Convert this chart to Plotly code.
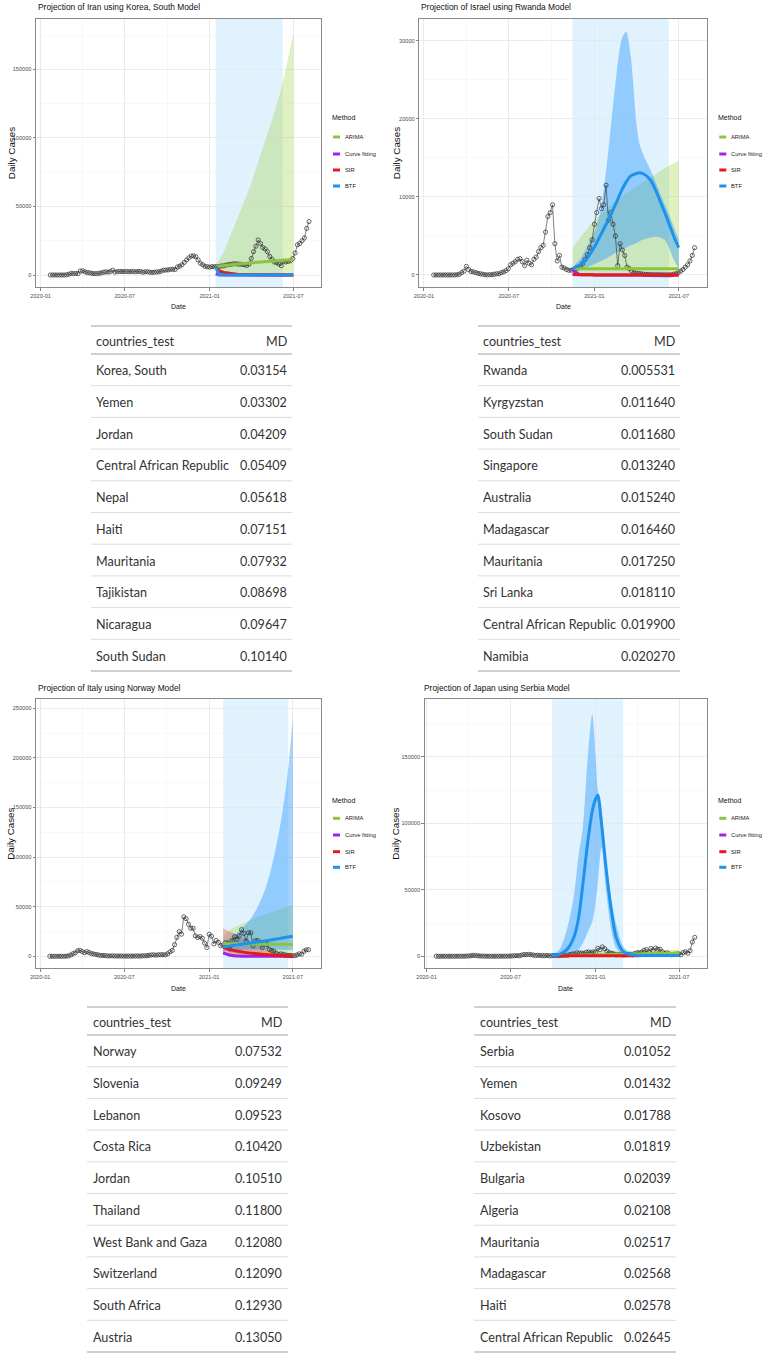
import plotly.graph_objects as go
import pandas as pd

W, H = 768, 1357
SANS = "Liberation Sans, Arial, sans-serif"
TFONT = "Lato, Roboto, sans-serif"
TSIZE = 12.6

# ---------------- observed daily cases (every 5 days from 2020-01-22) ----------------
obs_dates = pd.date_range("2020-01-22", periods=113, freq="5D")

iran_cases = [0, 0, 0, 0, 0, 0, 5, 100, 500, 1200,
              1000, 1200, 1000, 2900, 3100, 2300, 1800, 1600, 1200, 1000,
              1000, 1300, 1500, 2000, 2300, 2100, 2500, 3500, 2100, 2500,
              2600, 2500, 2500, 2600, 2400, 2500, 2600, 2300, 2600, 2600,
              2000, 2300, 2400, 2000, 1900, 2000, 2200, 2300, 2800, 3500,
              3600, 3700, 4100, 4200, 4000, 5800, 6400, 7500, 9200, 11000,
              12500, 13800, 14000, 13300, 11000, 8500, 7500, 6300, 6000, 5700,
              6100, 6000, 6200, 6000, 6600, 6700, 7200, 7500, 7700, 8000,
              8200, 8000, 7900, 7800, 7500, 7000, 7800, 12000, 17000, 21000,
              25500, 23000, 20000, 19000, 17000, 13500, 11500, 9500, 9000, 8000,
              6800, 10000, 9500, 9800, 10500, 12000, 16000, 22000, 23000, 25000,
              27000, 34000, 39000]

israel_cases = [0, 0, 0, 0, 0, 0, 0, 0, 2, 5,
                30, 100, 300, 500, 1100, 700, 450, 400, 300, 200,
                150, 100, 30, 20, 30, 40, 100, 150, 150, 300,
                400, 550, 800, 1300, 1500, 1700, 2000, 2100, 1700, 1200,
                1900, 1500, 1300, 2000, 2300, 3000, 3500, 3800, 5500, 7500,
                8000, 9000, 4000, 1800, 2500, 1000, 900, 700, 600, 600,
                700, 800, 900, 1000, 1500, 2000, 2600, 3500, 4500, 6500,
                8000, 9800, 8500, 9000, 11500, 7000, 8000, 6500, 5000, 1200,
                4000, 3200, 2500, 1000, 800, 500, 300, 200, 200, 150,
                100, 80, 60, 50, 40, 30, 40, 30, 20, 15,
                10, 15, 20, 100, 150, 300, 500, 700, 1000, 1300,
                1800, 2500, 3500]

italy_cases = [0, 0, 0, 0, 0, 0, 20, 100, 350, 1200,
               2600, 3500, 5500, 6000, 4800, 3600, 4700, 3800, 2700, 2300,
               1900, 1400, 750, 900, 650, 400, 350, 500, 200, 300,
               260, 300, 150, 200, 280, 170, 200, 270, 380, 190,
               460, 570, 640, 950, 1400, 1400, 1100, 1500, 1600, 1600,
               1500, 2500, 4500, 5900, 11700, 19100, 24900, 22300, 39800, 37900,
               32200, 28300, 28300, 20700, 18900, 19900, 18200, 13300, 8900, 22200,
               20300, 12500, 16000, 14000, 10600, 11300, 13700, 12900, 7300, 15500,
               19800, 17100, 20700, 26800, 23100, 15300, 23800, 23600, 10600, 15600,
               15900, 13800, 8800, 12900, 11800, 6900, 5800, 5200, 3200, 1800,
               2400, 2000, 1300, 900, 900, 700, 500, 1400, 2500, 2100,
               5000, 6500, 6600]

japan_cases = [0, 0, 0, 0, 0, 5, 10, 20, 20, 50,
               50, 40, 40, 100, 250, 350, 700, 580, 350, 200,
               160, 90, 40, 20, 30, 20, 40, 40, 40, 70,
               70, 100, 130, 270, 430, 450, 420, 850, 1300, 1200,
               1400, 1200, 1000, 500, 800, 600, 450, 450, 600, 300,
               400, 550, 600, 450, 600, 750, 700, 850, 1300, 1700,
               1700, 2500, 2500, 2400, 2000, 3000, 3200, 2700, 3300, 3200,
               6000, 4900, 7000, 5700, 3900, 2700, 2300, 1700, 1000, 1200,
               1100, 950, 1000, 1300, 1500, 1100, 2000, 2600, 2600, 3100,
               4500, 5000, 3300, 5900, 4400, 6200, 5300, 5300, 3400, 1900,
               2600, 1700, 1100, 1500, 1700, 1800, 1100, 2800, 3400, 2300,
               4200, 10700, 14200]

# ---------------- projections ----------------
iran_fc_dates = ["2021-01-14", "2021-01-21", "2021-02-01", "2021-02-15", "2021-03-01", "2021-03-15",
                 "2021-04-01", "2021-04-15", "2021-05-01", "2021-05-15", "2021-06-01", "2021-06-15", "2021-07-01"]
iran_arima = [6200, 6500, 7000, 7500, 8000, 8400, 8900, 9300, 9700, 10100, 10500, 10900, 11300]
iran_arima_lo = [5500, 3000, 1500, 500, 0, 0, 0, 0, 0, 0, 0, 0, 0]
iran_arima_hi = [7000, 11000, 17000, 29000, 40000, 52000, 67000, 81000, 97000, 112000, 131000, 150000, 176000]
iran_cf = [800, 100, 50, 20, 10, 10, 10, 10, 10, 10, 10, 10, 10]
iran_sir = [6200, 3000, 1800, 1000, 600, 300, 150, 80, 40, 20, 10, 5, 5]
iran_sir_lo = [5800, 1500, 600, 200, 0, 0, 0, 0, 0, 0, 0, 0, 0]
iran_sir_hi = [6500, 4500, 3000, 1800, 1100, 600, 300, 150, 80, 40, 20, 10, 10]
iran_btf = [6200, 200, 100, 50, 30, 20, 20, 20, 20, 20, 20, 20, 20]
iran_window = ["2021-01-14", "2021-06-08"]

israel_fc_dates = ["2020-11-15", "2020-12-01", "2020-12-15", "2021-01-01", "2021-01-15", "2021-02-01",
                   "2021-02-15", "2021-03-01", "2021-03-10", "2021-03-20", "2021-04-01", "2021-04-07",
                   "2021-04-15", "2021-05-01", "2021-05-15", "2021-06-01", "2021-06-10", "2021-06-20", "2021-07-01"]
israel_arima = [800, 800, 800, 800, 800, 800, 800, 800, 800, 800, 800, 800, 800, 800, 800, 800, 800, 800, 800]
israel_arima_lo = [0, 0, 0, 0, 0, 0, 0, 0, 0, 0, 0, 0, 0, 0, 0, 0, 0, 0, 0]
israel_arima_hi = [3500, 4800, 5800, 7000, 7800, 8700, 9400, 10000, 10400, 10800, 11300, 11500, 11900,
                   12500, 13000, 13700, 14000, 14300, 14600]
israel_cf = [600, 50, 20, 10, 5, 0, 0, 0, 0, 0, 0, 0, 0, 0, 0, 0, 0, 0, 0]
israel_sir = [50, 30, 20, 10, 10, 5, 5, 5, 5, 5, 5, 5, 5, 5, 5, 5, 5, 5, 5]
israel_btf = [800, 1300, 2000, 3600, 5200, 7200, 9000, 10900, 11900, 12700, 13000, 13100, 13000,
              12200, 10500, 8000, 6600, 5000, 3500]
israel_btf_lo = [600, 800, 1000, 1400, 1800, 2300, 2800, 3200, 3500, 3800, 4100, 4300, 4500,
                 4800, 4900, 4500, 3500, 2000, 800]
israel_btf_hi = [1000, 2000, 3500, 5500, 8500, 16500, 24500, 30300, 31200, 28000, 19500, 17000, 15500,
                 13500, 11500, 9000, 7800, 6200, 4500]
israel_window = ["2020-11-15", "2021-06-10"]

italy_fc_dates = ["2021-01-31", "2021-02-10", "2021-02-20", "2021-03-01", "2021-03-15", "2021-04-01",
                  "2021-04-15", "2021-05-01", "2021-05-15", "2021-06-01", "2021-06-10", "2021-06-20", "2021-07-01"]
italy_arima = [13000, 12800, 12600, 12500, 12400, 12300, 12300, 12200, 12200, 12100, 12100, 12000, 12000]
italy_arima_lo = [9000, 5000, 3000, 1000, 0, 0, 0, 0, 0, 0, 0, 0, 0]
italy_arima_hi = [18000, 25000, 28000, 30000, 33000, 36500, 39000, 42000, 44500, 47000, 48500, 49500, 51000]
italy_cf = [3500, 1800, 700, 300, 100, 50, 20, 10, 5, 0, 0, 0, 0]
italy_sir = [9000, 7500, 6200, 5300, 4200, 3200, 2500, 1800, 1300, 800, 500, 300, 100]
italy_sir_lo = [2000, 1500, 1000, 500, 0, 0, 0, 0, 0, 0, 0, 0, 0]
italy_sir_hi = [28000, 25800, 23700, 21800, 18800, 15100, 12100, 8700, 5600, 2000, 500, 200, 100]
italy_btf = [9000, 10000, 10800, 11500, 12400, 13500, 14500, 15500, 16500, 17800, 18600, 19400, 20300]
italy_btf_lo = [5000, 5500, 6000, 6200, 6500, 6800, 7000, 7000, 7000, 6800, 6500, 6300, 6000]
italy_btf_hi = [14000, 17000, 20000, 23000, 29000, 38000, 49000, 66000, 88000, 125000, 150000, 185000, 240000]
italy_window = ["2021-01-31", "2021-06-21"]

japan_fc_dates = ["2020-09-29", "2020-10-07", "2020-10-15", "2020-10-31", "2020-11-15", "2020-11-25",
                  "2020-12-05", "2020-12-15", "2020-12-25", "2021-01-01", "2021-01-06", "2021-01-14",
                  "2021-01-25", "2021-02-05", "2021-02-15", "2021-03-01", "2021-03-15", "2021-04-01",
                  "2021-04-09", "2021-05-01", "2021-06-01", "2021-07-01"]
japan_arima = [600, 650, 700, 750, 800, 850, 900, 950, 1000, 1050, 1100, 1150, 1200, 1300, 1400, 1500,
               1600, 1700, 1750, 1900, 2100, 2300]
japan_arima_lo = [0, 0, 0, 0, 0, 0, 0, 0, 0, 0, 0, 0, 0, 0, 0, 0, 0, 0, 0, 0, 0, 0]
japan_arima_hi = [1500, 1800, 2000, 2300, 2600, 2800, 3000, 3200, 3400, 3500, 3600, 3700, 3800, 3900,
                  4000, 4100, 4200, 4300, 4400, 4600, 4800, 5000]
japan_cf = [700, 300, None, None, None, None, None, None, None, None, None, None, None, None, None,
            None, None, None, None, None, None, None]
japan_sir = [None, 400, 400, 400, 400, 400, 400, 400, 400, 400, 400, 400, 400, 400, 400, 400, 400,
             400, 400, None, None, None]
japan_btf = [500, 900, 1500, 5000, 14000, 28000, 55000, 85000, 109000, 118000, 121000, 100000, 63000,
             33000, 14000, 4000, 1500, 800, 600, 500, 500, 500]
japan_btf_lo = [0, 100, 300, 800, 2500, 5000, 10000, 18000, 26000, 40000, 55000, 82000, 46000, 18000,
                6000, 1500, 1000, 300, 200, 100, 100, 100]
japan_btf_hi = [1000, 2500, 5000, 20000, 45000, 75000, 98000, 148000, 182000, 152000, 125000, 110000,
                70000, 42000, 24000, 8000, 3000, 1200, 1000, 800, 800, 800]
japan_window = ["2020-09-29", "2021-03-02"]

# ---------------- tables ----------------
t1_countries = ["Korea, South", "Yemen", "Jordan", "Central African Republic", "Nepal", "Haiti",
                "Mauritania", "Tajikistan", "Nicaragua", "South Sudan"]
t1_md = [0.03154, 0.03302, 0.04209, 0.05409, 0.05618, 0.07151, 0.07932, 0.08698, 0.09647, 0.10140]
t2_countries = ["Rwanda", "Kyrgyzstan", "South Sudan", "Singapore", "Australia", "Madagascar",
                "Mauritania", "Sri Lanka", "Central African Republic", "Namibia"]
t2_md = [0.005531, 0.011640, 0.011680, 0.013240, 0.015240, 0.016460, 0.017250, 0.018110, 0.019900, 0.020270]
t3_countries = ["Norway", "Slovenia", "Lebanon", "Costa Rica", "Jordan", "Thailand", "West Bank and Gaza",
                "Switzerland", "South Africa", "Austria"]
t3_md = [0.07532, 0.09249, 0.09523, 0.10420, 0.10510, 0.11800, 0.12080, 0.12090, 0.12930, 0.13050]
t4_countries = ["Serbia", "Yemen", "Kosovo", "Uzbekistan", "Bulgaria", "Algeria", "Mauritania",
                "Madagascar", "Haiti", "Central African Republic"]
t4_md = [0.01052, 0.01432, 0.01788, 0.01819, 0.02039, 0.02108, 0.02517, 0.02568, 0.02578, 0.02645]

method_names = ["ARIMA", "Curve fitting", "SIR", "BTF"]
method_colors = ["#8BC43F", "#A020F0", "#E8171C", "#1E93EE"]
ribbon_fill = {"arima": "rgba(154,205,50,0.30)", "sir": "rgba(232,23,28,0.28)", "btf": "rgba(30,144,255,0.40)"}

x_tick_labels = ["2020-01", "2020-07", "2021-01", "2021-07"]
x_minor_labels = ["2020-04", "2020-10", "2021-04"]

panels = [
    dict(title="Projection of Iran using Korea, South Model", cases=iran_cases, dates=iran_fc_dates,
         arima=iran_arima, arima_lo=iran_arima_lo, arima_hi=iran_arima_hi, cf=iran_cf,
         sir=iran_sir, sir_lo=iran_sir_lo, sir_hi=iran_sir_hi, btf=iran_btf, btf_lo=None, btf_hi=None,
         window=iran_window, yticks=[0, 50000, 100000, 150000], yrange=[-8970, 186700],
         xrange=["2019-12-22", "2021-08-30"], box=(36, 19, 321, 287.3), shape="linear",
         title_xy=(37, 7), ytitle_x=11, date_y=307, legend_x=331, legend_y=118,
         rows=[137, 154, 170, 186]),
    dict(title="Projection of Israel using Rwanda Model", cases=israel_cases, dates=israel_fc_dates,
         arima=israel_arima, arima_lo=israel_arima_lo, arima_hi=israel_arima_hi, cf=israel_cf,
         sir=israel_sir, sir_lo=None, sir_hi=None, btf=israel_btf, btf_lo=israel_btf_lo, btf_hi=israel_btf_hi,
         window=israel_window, yticks=[0, 10000, 20000, 30000], yrange=[-1580, 32800],
         xrange=["2019-12-22", "2021-08-30"], box=(419.3, 19, 706.7, 287.3), shape="spline",
         title_xy=(419.7, 7), ytitle_x=396, date_y=307, legend_x=717.3, legend_y=118,
         rows=[137, 154, 170, 186]),
    dict(title="Projection of Italy using Norway Model", cases=italy_cases, dates=italy_fc_dates,
         arima=italy_arima, arima_lo=italy_arima_lo, arima_hi=italy_arima_hi, cf=italy_cf,
         sir=italy_sir, sir_lo=italy_sir_lo, sir_hi=italy_sir_hi, btf=italy_btf, btf_lo=italy_btf_lo,
         btf_hi=italy_btf_hi, window=italy_window,
         yticks=[0, 50000, 100000, 150000, 200000, 250000], yrange=[-12100, 259000],
         xrange=["2019-12-23", "2021-08-31"], box=(36, 699.3, 321, 968.3), shape="spline",
         title_xy=(37, 688.3), ytitle_x=11, date_y=988.3, legend_x=331, legend_y=800.7,
         rows=[818.3, 835, 851.7, 867.3]),
    dict(title="Projection of Japan using Serbia Model", cases=japan_cases, dates=japan_fc_dates,
         arima=japan_arima, arima_lo=japan_arima_lo, arima_hi=japan_arima_hi, cf=japan_cf,
         sir=japan_sir, sir_lo=None, sir_hi=None, btf=japan_btf, btf_lo=japan_btf_lo, btf_hi=japan_btf_hi,
         window=japan_window, yticks=[0, 50000, 100000, 150000], yrange=[-9050, 193200],
         xrange=["2019-12-28", "2021-08-30"], box=(424.7, 699.3, 706.7, 968.3), shape="spline",
         title_xy=(423, 688.3), ytitle_x=396, date_y=988.3, legend_x=717.3, legend_y=800.7,
         rows=[818.3, 835, 851.7, 867.3]),
]

tables = [
    dict(countries=t1_countries, md=t1_md, dec=5, x0=91, x1=292, tl=95, tr=288, ytop=326, yhead=354, ybot=671),
    dict(countries=t2_countries, md=t2_md, dec=6, x0=478, x1=680, tl=482, tr=676, ytop=326, yhead=354, ybot=671),
    dict(countries=t3_countries, md=t3_md, dec=5, x0=87, x1=288, tl=92, tr=283, ytop=1007, yhead=1035, ybot=1352),
    dict(countries=t4_countries, md=t4_md, dec=5, x0=474, x1=676, tl=479, tr=672, ytop=1007, yhead=1035, ybot=1352),
]


def PX(x):
    return x / W


def PY(y):
    return 1 - y / H


def pick(dates, *cols):
    keep = [k for k in range(len(dates)) if all(c[k] is not None for c in cols)]
    return [dates[k] for k in keep], [[c[k] for k in keep] for c in cols]


def ann(text, x, y, size, color="#111111", family=SANS, xanchor="left", **kw):
    return dict(text=text, x=PX(x), y=PY(y), xref="paper", yref="paper", xanchor=xanchor, yanchor="middle",
                showarrow=False, borderpad=0, font=dict(family=family, size=size, color=color), **kw)


fig = go.Figure()
shapes, annotations = [], []
layout = {}

for i, p in enumerate(panels, start=1):
    xa = "x" if i == 1 else f"x{i}"
    ya = "y" if i == 1 else f"y{i}"
    x0, y0, x1, y1 = p["box"]
    sm = dict(shape=p["shape"], smoothing=0.8) if p["shape"] == "spline" else dict(shape="linear")

    # projection window
    shapes.append(dict(type="rect", xref=xa, yref=f"{ya} domain", x0=p["window"][0], x1=p["window"][1],
                       y0=0, y1=1, fillcolor="rgba(135,206,250,0.27)", line=dict(width=0), layer="below"))

    # ribbons
    for key in ["arima", "sir", "btf"]:
        lo, hi = p[key + "_lo"], p[key + "_hi"]
        if lo is None:
            continue
        d, (l, h) = pick(p["dates"], lo, hi)
        fig.add_trace(go.Scatter(x=d, y=l, mode="lines", line=dict(width=0, **sm), xaxis=xa, yaxis=ya,
                                 showlegend=False, hoverinfo="skip"))
        fig.add_trace(go.Scatter(x=d, y=h, mode="lines", line=dict(width=0, **sm), fill="tonexty",
                                 fillcolor=ribbon_fill[key], xaxis=xa, yaxis=ya, showlegend=False,
                                 hoverinfo="skip"))

    # observed data
    fig.add_trace(go.Scatter(x=obs_dates, y=p["cases"], mode="lines+markers",
                             line=dict(color="#2b2b2b", width=0.6),
                             marker=dict(symbol="circle-open", size=4.2, color="#2b2b2b", line=dict(width=0.7)),
                             xaxis=xa, yaxis=ya, showlegend=False))

    # projection lines
    for key, name, col in zip(["arima", "cf", "sir", "btf"], method_names, method_colors):
        d, (v,) = pick(p["dates"], p[key])
        fig.add_trace(go.Scatter(x=d, y=v, mode="lines", line=dict(color=col, width=3, **sm), name=name,
                                 xaxis=xa, yaxis=ya, showlegend=False))

    yt = p["yticks"]
    step = yt[1] - yt[0]
    yminor = [v + step / 2 for v in yt]
    xa_key = "xaxis" if i == 1 else f"xaxis{i}"
    ya_key = "yaxis" if i == 1 else f"yaxis{i}"
    common = dict(ticks="outside", ticklen=2.5, tickwidth=0.6, tickcolor="#333333",
                  tickfont=dict(family=SANS, size=5.6, color="#4D4D4D"),
                  showgrid=True, gridcolor="#E6E6E6", gridwidth=0.8,
                  showline=True, mirror=True, linecolor="#8a8a8a", linewidth=1, zeroline=False,
                  fixedrange=True, automargin=False)
    layout[xa_key] = dict(domain=[PX(x0), PX(x1)], anchor=ya, type="date", range=p["xrange"],
                          tickmode="array", tickvals=[s + "-01" for s in x_tick_labels], ticktext=x_tick_labels,
                          minor=dict(tickmode="array", tickvals=[s + "-01" for s in x_minor_labels],
                                     showgrid=True, gridcolor="#F2F2F2", gridwidth=0.5, ticks=""),
                          **common)
    layout[ya_key] = dict(domain=[PY(y1), PY(y0)], anchor=xa, range=p["yrange"],
                          tickmode="array", tickvals=yt, ticktext=[str(v) for v in yt],
                          minor=dict(tickmode="array", tickvals=yminor, showgrid=True, gridcolor="#F2F2F2",
                                     gridwidth=0.5, ticks=""),
                          **common)

    # texts
    annotations.append(ann(p["title"], p["title_xy"][0], p["title_xy"][1], 8.4))
    annotations.append(ann("Daily Cases", p["ytitle_x"], (y0 + y1) / 2, 9.8, xanchor="center", textangle=-90))
    annotations.append(ann("Date", (x0 + x1) / 2, p["date_y"], 7, xanchor="center"))
    # legend
    lx = p["legend_x"]
    annotations.append(ann("Method", lx, p["legend_y"], 7))
    for name, col, ry in zip(method_names, method_colors, p["rows"]):
        shapes.append(dict(type="line", xref="paper", yref="paper", x0=PX(lx + 2), x1=PX(lx + 9),
                           y0=PY(ry), y1=PY(ry), line=dict(color=col, width=3)))
        annotations.append(ann(name, lx + 13, ry, 5.8, color="#222222"))

# tables
for t in tables:
    n = len(t["countries"])
    rowh = (t["ybot"] - t["yhead"]) / n
    for yy in [t["ytop"], t["yhead"], t["ybot"]]:
        shapes.append(dict(type="line", xref="paper", yref="paper", x0=PX(t["x0"]), x1=PX(t["x1"]),
                           y0=PY(yy), y1=PY(yy), line=dict(color="#D0D0D0", width=2)))
    for k in range(1, n):
        yy = t["yhead"] + k * rowh
        shapes.append(dict(type="line", xref="paper", yref="paper", x0=PX(t["x0"]), x1=PX(t["x1"]),
                           y0=PY(yy), y1=PY(yy), line=dict(color="#DDDDDD", width=1)))
    hy = (t["ytop"] + t["yhead"]) / 2 + 1
    annotations.append(ann("countries_test", t["tl"], hy, TSIZE, color="#333333", family=TFONT))
    annotations.append(ann("MD", t["tr"], hy, TSIZE, color="#333333", family=TFONT, xanchor="right"))
    for k, (c, v) in enumerate(zip(t["countries"], t["md"])):
        cy = t["yhead"] + (k + 0.5) * rowh + 1
        annotations.append(ann(c, t["tl"], cy, TSIZE, color="#333333", family=TFONT))
        annotations.append(ann(f"{v:.{t['dec']}f}", t["tr"], cy, TSIZE, color="#333333", family=TFONT,
                               xanchor="right"))

fig.update_layout(width=W, height=H, autosize=False, margin=dict(l=0, r=0, t=0, b=0, pad=0),
                  paper_bgcolor="white", plot_bgcolor="white", showlegend=False,
                  shapes=shapes, annotations=annotations, **layout)

fig.write_html("out.html", include_plotlyjs=True, config={"displayModeBar": False, "staticPlot": True},
               post_script="document.body.style.margin='0';document.body.style.overflow='hidden';")
